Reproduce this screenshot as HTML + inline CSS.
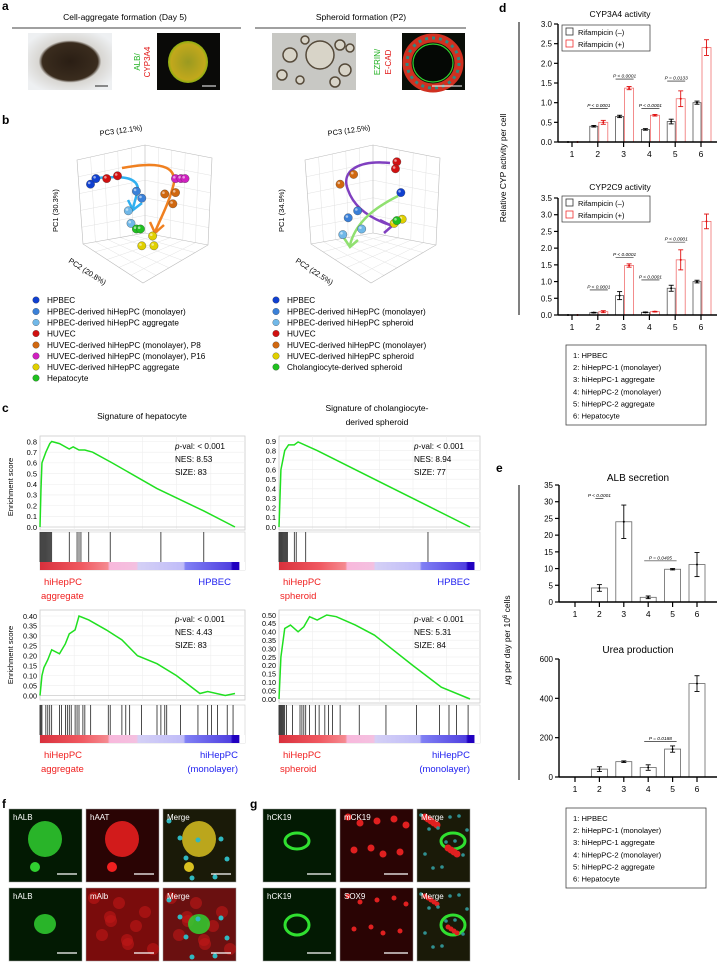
<!DOCTYPE html>
<html><head><meta charset="utf-8"><style>
html,body{margin:0;padding:0;background:#fff;}
svg{display:block;font-family:"Liberation Sans",Arial,sans-serif;}
</style></head><body>
<svg id="fig" xmlns="http://www.w3.org/2000/svg" width="717" height="962" viewBox="0 0 717 962">
<defs>
<radialGradient id="bf1" cx="50%" cy="50%" r="60%"><stop offset="0" stop-color="#2a1e14"/><stop offset="0.55" stop-color="#3a2c1e"/><stop offset="0.62" stop-color="#d8d6d2"/><stop offset="1" stop-color="#eef0f2"/></radialGradient>
<radialGradient id="fl1" cx="50%" cy="50%" r="50%"><stop offset="0" stop-color="#9a9a20"/><stop offset="0.85" stop-color="#c2a81c"/><stop offset="1" stop-color="#8ab010"/></radialGradient>
<linearGradient id="cbar" x1="0" x2="1" y1="0" y2="0">
<stop offset="0" stop-color="#d8303c"/><stop offset="0.2" stop-color="#f05860"/><stop offset="0.33" stop-color="#f58a90"/><stop offset="0.34" stop-color="#f8b8dc"/><stop offset="0.47" stop-color="#f4c0e0"/><stop offset="0.48" stop-color="#d4d0f6"/><stop offset="0.7" stop-color="#c0bcf8"/><stop offset="0.71" stop-color="#8080f4"/><stop offset="0.93" stop-color="#5040e0"/><stop offset="0.94" stop-color="#2000c0"/><stop offset="0.97" stop-color="#2000c0"/><stop offset="0.975" stop-color="#fff"/><stop offset="1" stop-color="#fff"/>
</linearGradient>
</defs>
</svg>
<script>
// ---------- data ----------
const cats = ['1','2','3','4','5','6'];
const cyp3a4Neg = [0,0.40,0.65,0.32,0.52,1.00];
const cyp3a4Pos = [0,0.50,1.37,0.68,1.10,2.40];
const cyp3a4NegErr = [0,0.02,0.03,0.02,0.06,0.04];
const cyp3a4PosErr = [0,0.05,0.04,0.02,0.20,0.20];
const cyp2c9Neg = [0,0.07,0.58,0.08,0.80,1.00];
const cyp2c9Pos = [0,0.10,1.48,0.10,1.65,2.80];
const cyp2c9NegErr = [0,0.01,0.12,0.01,0.09,0.04];
const cyp2c9PosErr = [0,0.03,0.05,0.01,0.30,0.22];
const cypTicks3a4 = [0,0.5,1.0,1.5,2.0,2.5,3.0];
const cypTicks2c9 = [0,0.5,1.0,1.5,2.0,2.5,3.0,3.5];
const albVals = [0,4.2,24,1.4,9.8,11.2];
const albErr = [0,1.0,5,0.4,0.2,3.6];
const albTicks = [0,5,10,15,20,25,30,35];
const ureaVals = [0,40,78,48,142,475];
const ureaErr = [0,12,4,14,16,40];
const ureaTicks = [0,200,400,600];
const legendItems = ['1: HPBEC','2: hiHepPC-1 (monolayer)','3: hiHepPC-1 aggregate','4: hiHepPC-2 (monolayer)','5: hiHepPC-2 aggregate','6: Hepatocyte'];

const gseaHepX = [0,0.005,0.01,0.03,0.05,0.06,0.1,0.15,0.17,0.2,0.23,0.27,0.37,0.6,0.84,1];
const gseaHepY = [0,0.35,0.6,0.7,0.78,0.8,0.78,0.73,0.75,0.72,0.72,0.7,0.6,0.36,0.15,0];
const gseaHepHits = [0,0.005,0.01,0.015,0.02,0.025,0.03,0.035,0.04,0.045,0.05,0.055,0.06,0.15,0.19,0.2,0.21,0.25,0.36,0.62,0.84];
const gseaChoX = [0,0.01,0.03,0.05,0.08,0.1,0.2,0.78,1];
const gseaChoY = [0,0.6,0.8,0.86,0.86,0.89,0.8,0.22,0];
const gseaChoHits = [0,0.005,0.01,0.015,0.02,0.025,0.03,0.035,0.04,0.045,0.08,0.09,0.14,0.78];
const gseaAggX = [0,0.01,0.02,0.04,0.06,0.1,0.13,0.15,0.18,0.2,0.25,0.34,0.42,0.5,0.6,0.7,0.82,0.86,0.95,1];
const gseaAggY = [0,0.1,0.14,0.18,0.23,0.21,0.26,0.31,0.33,0.4,0.38,0.33,0.28,0.2,0.16,0.1,0.01,0.02,0,0.01];
const gseaAggHits = [0,0.005,0.01,0.03,0.04,0.05,0.06,0.1,0.11,0.13,0.14,0.15,0.16,0.18,0.19,0.2,0.22,0.23,0.26,0.35,0.36,0.42,0.44,0.46,0.52,0.6,0.62,0.64,0.65,0.72,0.81,0.86,0.88,0.91,0.96,0.99];
const gseaSphX = [0,0.01,0.03,0.06,0.1,0.13,0.16,0.2,0.25,0.3,0.4,0.5,0.7,0.85,1];
const gseaSphY = [0,0.25,0.42,0.44,0.4,0.43,0.49,0.47,0.5,0.49,0.44,0.38,0.2,0.07,0];
const gseaSphHits = [0,0.005,0.01,0.015,0.02,0.025,0.03,0.04,0.07,0.11,0.12,0.13,0.14,0.16,0.19,0.21,0.24,0.26,0.28,0.32,0.42,0.56,0.72,0.84,0.89,0.93,0.99];

// PCA (normalized positions within 3D box projection)
const pcaLeftColors = ['#1040d0','#1040d0','#3a80d8','#3a80d8','#70b8e8','#70b8e8','#d01010','#d01010','#d06810','#d06810','#d06810','#d020c0','#d020c0','#d020c0','#e0d000','#e0d000','#e0d000','#20c020','#20c020'];
const pcaLeftU = [0.10,0.14,0.44,0.48,0.38,0.40,0.22,0.30,0.65,0.73,0.71,0.73,0.77,0.80,0.56,0.48,0.57,0.44,0.47];
const pcaLeftV = [0.28,0.24,0.33,0.38,0.47,0.56,0.24,0.22,0.35,0.34,0.42,0.24,0.24,0.24,0.65,0.72,0.72,0.60,0.60];
const pcaRightColors = ['#d01010','#d01010','#d06810','#d06810','#1040d0','#3a80d8','#3a80d8','#70b8e8','#70b8e8','#e0d000','#e0d000','#20c020'];
const pcaRightU = [0.68,0.67,0.36,0.26,0.71,0.39,0.32,0.42,0.28,0.66,0.72,0.68];
const pcaRightV = [0.12,0.17,0.21,0.28,0.34,0.47,0.52,0.60,0.64,0.56,0.53,0.54];

// ---------- helpers ----------
const NS='http://www.w3.org/2000/svg';
const svg=document.getElementById('fig');
function mk(tag,attrs,parent){const e=document.createElementNS(NS,tag);for(const k in attrs)e.setAttribute(k,attrs[k]);(parent||svg).appendChild(e);return e;}
function tx(str,x,y,size,attrs,parent){const a=Object.assign({x:x,y:y,'font-size':size,fill:'#000'},attrs||{});const t=mk('text',a,parent);t.textContent=str;return t;}

// ---------- panel letters ----------
[['a',2,10],['b',2,124],['c',2,412],['d',499,12],['e',496,472],['f',2,808],['g',250,808]].forEach(p=>{
  const t=tx(p[0],p[1],p[2],12,{'font-weight':'bold'});
  
  
});

// ---------- panel a ----------
(function(){
  const g=mk('g',{});
  
  
  tx('Cell-aggregate formation (Day 5)',125,20,8.5,{'text-anchor':'middle'},g);
  tx('Spheroid formation (P2)',361,20,8.5,{'text-anchor':'middle'},g);
  mk('line',{x1:12,y1:28,x2:241,y2:28,stroke:'#000','stroke-width':0.8},g);
  mk('line',{x1:255,y1:28,x2:466,y2:28,stroke:'#000','stroke-width':0.8},g);
  const bf=mk('rect',{x:28,y:33,width:84,height:57,fill:'url(#bf1)'},g);
  
  
  mk('line',{x1:95,y1:86,x2:108,y2:86,stroke:'#222','stroke-width':1},g);
  tx('ALB/',140,62,8,{fill:'#20b020','text-anchor':'middle',transform:'rotate(-90 140 62)'},g);
  tx('CYP3A4',150,62,8,{fill:'#e01010','text-anchor':'middle',transform:'rotate(-90 150 62)'},g);
  mk('rect',{x:157,y:33,width:63,height:57,fill:'#0a0a08'},g);
  mk('ellipse',{cx:188,cy:62,rx:20,ry:21,fill:'url(#fl1)'},g);
  mk('line',{x1:202,y1:86,x2:216,y2:86,stroke:'#fff','stroke-width':1},g);
  const sp=mk('rect',{x:272,y:33,width:84,height:57,fill:'#c8c8c4'},g);
  
  
  [[290,55,7],[320,55,14],[340,45,5],[282,75,5],[300,80,4],[345,70,6],[305,40,4],[335,82,5],[350,48,4]].forEach(c=>mk('circle',{cx:c[0],cy:c[1],r:c[2],fill:'#d8d4c8',stroke:'#554a3a','stroke-width':1.5},g));
  tx('EZRIN/',380,62,8,{fill:'#20b020','text-anchor':'middle',transform:'rotate(-90 380 62)'},g);
  tx('E-CAD',391,62,8,{fill:'#e01010','text-anchor':'middle',transform:'rotate(-90 391 62)'},g);
  mk('rect',{x:402,y:33,width:63,height:57,fill:'#0a0e08'},g);
  mk('ellipse',{cx:433,cy:63,rx:26,ry:25,fill:'none',stroke:'#d03020','stroke-width':9},g);
  mk('ellipse',{cx:433,cy:63,rx:26,ry:25,fill:'none',stroke:'#308880','stroke-width':3,'stroke-dasharray':'3 4'},g);
  mk('ellipse',{cx:433,cy:63,rx:20,ry:19,fill:'#050805',stroke:'#30d030','stroke-width':1.2},g);
  mk('line',{x1:432,y1:86,x2:462,y2:86,stroke:'#fff','stroke-width':1},g);
})();

// ---------- panel b (PCA) ----------
function lerp(a,b,f){return [a[0]+(b[0]-a[0])*f,a[1]+(b[1]-a[1])*f];}
function ln(g,a,b,c,w){mk('line',{x1:a[0],y1:a[1],x2:b[0],y2:b[1],stroke:c,'stroke-width':w},g);}
function pcaBox(g,ox,oy){
  const P=[[ox,oy+15],[ox+68,oy],[ox+135,oy+13],[ox+131,oy+100],[ox+66,oy+138],[ox+6,oy+99]];
  const C=[ox+68,oy+88];
  for(let i=1;i<5;i++){const f=i/5;
    // left wall horizontal lines
    ln(g,lerp(P[0],P[5],f),lerp(P[1],C,f),'#e2e2e2',0.5);
    // right wall horizontal lines
    ln(g,lerp(P[1],C,f),lerp(P[2],P[3],f),'#e2e2e2',0.5);
    // left wall verticals
    ln(g,lerp(P[0],P[1],f),lerp(P[5],C,f),'#e2e2e2',0.5);
    // right wall verticals
    ln(g,lerp(P[1],P[2],f),lerp(C,P[3],f),'#e2e2e2',0.5);
    // floor grid
    ln(g,lerp(P[5],C,f),lerp(P[4],P[3],f),'#e2e2e2',0.5);
    ln(g,lerp(C,P[3],f),lerp(P[5],P[4],f),'#e2e2e2',0.5);
  }
  mk('polygon',{points:P.map(p=>p.join(',')).join(' '),fill:'none',stroke:'#bbb','stroke-width':0.6},g);
  [P[1],P[5],P[3]].forEach(p=>ln(g,p,C,'#bbb',0.6));
}
function pcaPoints(g,ox,oy,U,V,cols,name){
  const xs=u=>ox+u*135, ys=v=>oy+v*140;
  U.forEach((u,i)=>{
    const c=mk('circle',{cx:xs(u),cy:ys(V[i]),r:4.2,fill:cols[i],stroke:'#333','stroke-width':0.3},g);
    
    
    mk('circle',{cx:xs(u)-1.3,cy:ys(V[i])-1.3,r:1.3,fill:'#fff','fill-opacity':0.55},g);
  });
}
(function(){
  const g=mk('g',{});
  
  
  pcaBox(g,77,145);
  mk('path',{d:'M96,178 C120,176 138,176 138,190 L133,208',fill:'none',stroke:'#30b0f0','stroke-width':2.5},g);
  mk('path',{d:'M128,200 L133,210 L142,203',fill:'none',stroke:'#30b0f0','stroke-width':2.5},g);
  mk('path',{d:'M122,168 C165,160 180,168 172,190 C168,205 162,215 155,232',fill:'none',stroke:'#f08020','stroke-width':2.5},g);
  mk('path',{d:'M150,222 L155,233 L164,225',fill:'none',stroke:'#f08020','stroke-width':2.5},g);
  pcaPoints(g,77,145,pcaLeftU,pcaLeftV,pcaLeftColors,'pca-left');
  tx('PC3 (12.1%)',100,136,7.5,{transform:'rotate(-8 100 136)'},g);
  tx('PC1 (30.3%)',58,232,7.5,{transform:'rotate(-90 58 232)'},g);
  tx('PC2 (20.8%)',68,262,7.5,{transform:'rotate(33 68 262)'},g);
  const g2=mk('g',{});
  
  
  pcaBox(g2,305,145);
  mk('path',{d:'M390,163 C360,160 340,170 348,190 C355,210 375,220 390,225',fill:'none',stroke:'#8040c0','stroke-width':2.5},g2);
  mk('path',{d:'M380,220 L392,226 L384,233',fill:'none',stroke:'#8040c0','stroke-width':2.5},g2);
  mk('path',{d:'M398,196 C370,210 355,225 350,245',fill:'none',stroke:'#90e070','stroke-width':2.5},g2);
  mk('path',{d:'M344,238 L350,247 L358,240',fill:'none',stroke:'#90e070','stroke-width':2.5},g2);
  pcaPoints(g2,305,145,pcaRightU,pcaRightV,pcaRightColors,'pca-right');
  tx('PC3 (12.5%)',328,136,7.5,{transform:'rotate(-8 328 136)'},g2);
  tx('PC1 (34.9%)',284,232,7.5,{transform:'rotate(-90 284 232)'},g2);
  tx('PC2 (22.5%)',295,262,7.5,{transform:'rotate(33 295 262)'},g2);
})();
const pcaLegL=[['#1040d0','HPBEC'],['#3a80d8','HPBEC-derived hiHepPC (monolayer)'],['#70b8e8','HPBEC-derived hiHepPC aggregate'],['#d01010','HUVEC'],['#d06810','HUVEC-derived hiHepPC (monolayer), P8'],['#d020c0','HUVEC-derived hiHepPC (monolayer), P16'],['#e0d000','HUVEC-derived hiHepPC aggregate'],['#20c020','Hepatocyte']];
const pcaLegR=[['#1040d0','HPBEC'],['#3a80d8','HPBEC-derived hiHepPC (monolayer)'],['#70b8e8','HPBEC-derived hiHepPC spheroid'],['#d01010','HUVEC'],['#d06810','HUVEC-derived hiHepPC (monolayer)'],['#e0d000','HUVEC-derived hiHepPC spheroid'],['#20c020','Cholangiocyte-derived spheroid']];
const legY=[300,311.5,322.5,333.5,345,356,367,378];
pcaLegL.forEach((l,i)=>{const c=mk('circle',{cx:36,cy:legY[i],r:3.3,fill:l[0],stroke:'#333','stroke-width':0.3});
  
  const t=tx(l[1],47,legY[i]+3,8.2);});
pcaLegR.forEach((l,i)=>{const c=mk('circle',{cx:276,cy:legY[i],r:3.3,fill:l[0],stroke:'#333','stroke-width':0.3});
  
  const t=tx(l[1],287,legY[i]+3,8.2);});

// ---------- panel c (GSEA) ----------
function gsea(o){
  const g=mk('g',{});
  
  
  const x0=o.x0,x1=o.x1,top=o.top,bot=o.bot;
  const xs=f=>x0+f*(o.xEnd-x0);
  const ys=v=>o.y0-v/o.tickMax*(o.y0-o.yTop);
  mk('rect',{x:x0,y:top,width:x1-x0,height:bot-top,fill:'#fff',stroke:'#ccc','stroke-width':0.8},g);
  for(let i=1;i<6;i++)mk('line',{x1:x0+i*(x1-x0)/6,y1:top,x2:x0+i*(x1-x0)/6,y2:bot,stroke:'#eee','stroke-width':0.6},g);
  o.ticks.forEach(t=>{mk('line',{x1:x0,y1:ys(t),x2:x1,y2:ys(t),stroke:'#eee','stroke-width':0.6},g);
    tx(o.fmt(t),x0-3,ys(t)+2.8,o.tfs,{'text-anchor':'end'},g);});
  mk('line',{x1:x0,y1:ys(0),x2:x1,y2:ys(0),stroke:'#bbb','stroke-width':0.6},g);
  const pts=o.X.map((f,i)=>xs(f)+','+ys(o.Y[i])).join(' ');
  const pl=mk('polyline',{points:pts,fill:'none',stroke:'#20e020','stroke-width':1.5},g);
  
  
  tx('p',o.ax,o.ay,8.2,{'font-style':'italic'},g);
  tx('-val: < 0.001',o.ax+4.6,o.ay,8.2,{},g);
  tx('NES: '+o.nes,o.ax,o.ay+13,8.2,{},g);
  tx('SIZE: '+o.size,o.ax,o.ay+26,8.2,{},g);
  mk('rect',{x:x0,y:o.bcTop,width:x1-x0,height:o.bcBot-o.bcTop,fill:'#fff',stroke:'#ccc','stroke-width':0.6},g);
  o.hits.forEach(h=>{const l=mk('line',{x1:xs(h),y1:o.bcTop,x2:xs(h),y2:o.bcBot-8,stroke:'#000','stroke-width':0.7},g);
    });
  mk('rect',{x:x0,y:o.bcBot-8,width:x1-x0,height:8,fill:'url(#cbar)'},g);
  tx(o.l1[0],x0+4,o.ly,9.5,{fill:'#f02020'},g);
  if(o.l1[1])tx(o.l1[1],x0+1,o.ly+14,9.5,{fill:'#f02020'},g);
  tx(o.r1[0],o.rx,o.ly,9.5,{fill:'#2020f0','text-anchor':'end'},g);
  if(o.r1[1])tx(o.r1[1],o.rx,o.ly+14,9.5,{fill:'#2020f0','text-anchor':'end'},g);
  return g;
}
tx('Signature of hepatocyte',142,419,8.5,{'text-anchor':'middle'});
tx('Signature of cholangiocyte-',377,411,8.5,{'text-anchor':'middle'});
tx('derived spheroid',377,425,8.5,{'text-anchor':'middle'});
tx('Enrichment score',13,487,7.5,{'text-anchor':'middle',transform:'rotate(-90 13 487)'});
tx('Enrichment score',13,655,7.5,{'text-anchor':'middle',transform:'rotate(-90 13 655)'});
const f1=v=>v.toFixed(1), f2=v=>v.toFixed(2);
gsea({name:'gsea-hepatocyte',x0:40,x1:245,xEnd:235,top:436,bot:530,y0:527,yTop:441.5,tickMax:0.8,ticks:[0,0.1,0.2,0.3,0.4,0.5,0.6,0.7,0.8],fmt:f1,tfs:7.5,X:gseaHepX,Y:gseaHepY,hits:gseaHepHits,ax:175,ay:449,nes:'8.53',size:'83',bcTop:532,bcBot:570,l1:['hiHepPC','aggregate'],r1:['HPBEC',''],rx:231,ly:585});
gsea({name:'gsea-cholangiocyte',x0:279,x1:480,xEnd:470,top:436,bot:530,y0:527,yTop:441,tickMax:0.9,ticks:[0,0.1,0.2,0.3,0.4,0.5,0.6,0.7,0.8,0.9],fmt:f1,tfs:7.5,X:gseaChoX,Y:gseaChoY,hits:gseaChoHits,ax:414,ay:449,nes:'8.94',size:'77',bcTop:532,bcBot:570,l1:['hiHepPC','spheroid'],r1:['HPBEC',''],rx:470,ly:585});
gsea({name:'gsea-aggregate-vs-monolayer',x0:40,x1:245,xEnd:235,top:610,bot:700,y0:695.5,yTop:616,tickMax:0.4,ticks:[0,0.05,0.1,0.15,0.2,0.25,0.3,0.35,0.4],fmt:f2,tfs:7.2,X:gseaAggX,Y:gseaAggY,hits:gseaAggHits,ax:175,ay:622,nes:'4.43',size:'83',bcTop:705,bcBot:743,l1:['hiHepPC','aggregate'],r1:['hiHepPC','(monolayer)'],rx:238,ly:758});
gsea({name:'gsea-spheroid-vs-monolayer',x0:279,x1:480,xEnd:470,top:610,bot:703,y0:699,yTop:615,tickMax:0.5,ticks:[0,0.05,0.1,0.15,0.2,0.25,0.3,0.35,0.4,0.45,0.5],fmt:f2,tfs:7.2,X:gseaSphX,Y:gseaSphY,hits:gseaSphHits,ax:414,ay:622,nes:'5.31',size:'84',bcTop:705,bcBot:743,l1:['hiHepPC','spheroid'],r1:['hiHepPC','(monolayer)'],rx:470,ly:758});

// ---------- bar charts ----------
function axisY(g,ax,y0,ppu,ticks,fmt,top){
  mk('line',{x1:ax,y1:y0,x2:ax,y2:top,stroke:'#000','stroke-width':1.4},g);
  ticks.forEach(t=>{const y=y0-t*ppu;mk('line',{x1:ax-4,y1:y,x2:ax,y2:y,stroke:'#000','stroke-width':1.2},g);
    tx(fmt(t),ax-6,y+3,8,{'text-anchor':'end'},g);});
}
function axisX(g,ax,y0,cx){
  mk('line',{x1:ax,y1:y0,x2:717,y2:y0,stroke:'#000','stroke-width':1.4},g);
  cats.forEach((c,i)=>{mk('line',{x1:cx(i),y1:y0,x2:cx(i),y2:y0+5,stroke:'#000','stroke-width':1.2},g);
    tx(c,cx(i),y0+15,8.5,{'text-anchor':'middle'},g);});
}
function errBar(g,x,y,e,col){
  mk('line',{x1:x,y1:y-e,x2:x,y2:y+e,stroke:col,'stroke-width':0.9},g);
  mk('line',{x1:x-2.5,y1:y-e,x2:x+2.5,y2:y-e,stroke:col,'stroke-width':0.9},g);
  mk('line',{x1:x-2.5,y1:y+e,x2:x+2.5,y2:y+e,stroke:col,'stroke-width':0.9},g);
  mk('circle',{cx:x,cy:y,r:1,fill:col},g);
}
function pText(g,x1,x2,y,str){
  tx(str,(x1+x2)/2,y-1.5,4.8,{'text-anchor':'middle','font-style':'italic'},g);
  mk('line',{x1:x1,y1:y,x2:x2,y2:y,stroke:'#000','stroke-width':0.6},g);
}
function cypChart(name,title,titleY,y0,ppu,ticks,neg,pos,negE,posE,pvals,legTop){
  const g=mk('g',{});
  
  
  const ax=558, cx=i=>572+i*25.8, ys=v=>y0-v*ppu;
  tx(title,620,titleY,8.5,{'text-anchor':'middle'},g);
  cats.forEach((c,i)=>{
    const b=mk('rect',{x:cx(i)-8,y:ys(neg[i]),width:8,height:neg[i]*ppu,fill:'#fff',stroke:'#555','stroke-width':0.8},g);
    
    
    const r=mk('rect',{x:cx(i)+1,y:ys(pos[i]),width:9,height:pos[i]*ppu,fill:'#fff',stroke:'#f07070','stroke-width':0.8},g);
    
    
    errBar(g,cx(i)-4,ys(neg[i]),negE[i]*ppu,'#000');
    errBar(g,cx(i)+5.5,ys(pos[i]),posE[i]*ppu,'#e01010');
  });
  pvals.forEach(p=>pText(g,cx(p[0])-8,cx(p[1])+10,ys(p[2]),p[3]));
  axisY(g,ax,y0,ppu,ticks,v=>v.toFixed(1),y0-ticks[ticks.length-1]*ppu);
  axisX(g,ax,y0,cx);
  const lg=mk('g',{},g);
  
  
  mk('rect',{x:562,y:legTop,width:88,height:26,fill:'#fff',stroke:'#333','stroke-width':0.7},lg);
  mk('rect',{x:566,y:legTop+3,width:7,height:7,fill:'#fff',stroke:'#333','stroke-width':0.8},lg);
  tx('Rifampicin (–)',578,legTop+10,7.5,{},lg);
  mk('rect',{x:566,y:legTop+15,width:7,height:7,fill:'#fff',stroke:'#f03030','stroke-width':0.8},lg);
  tx('Rifampicin (+)',578,legTop+22,7.5,{},lg);
}
cypChart('cyp3a4-chart','CYP3A4 activity',17,142,118/3,cypTicks3a4,cyp3a4Neg,cyp3a4Pos,cyp3a4NegErr,cyp3a4PosErr,
  [[1,1,0.85,'P < 0.0001'],[2,2,1.6,'P < 0.0001'],[3,3,0.85,'P < 0.0001'],[4,4,1.55,'P = 0.0133']],25);
cypChart('cyp2c9-chart','CYP2C9 activity',190,315,117/3.5,cypTicks2c9,cyp2c9Neg,cyp2c9Pos,cyp2c9NegErr,cyp2c9PosErr,
  [[1,1,0.75,'P < 0.0001'],[2,2,1.72,'P < 0.0001'],[3,3,1.05,'P < 0.0001'],[4,4,2.18,'P < 0.0001']],196);
mk('line',{x1:519,y1:22,x2:519,y2:315,stroke:'#000','stroke-width':1});
tx('Relative CYP activity per cell',506,168,8.5,{'text-anchor':'middle',transform:'rotate(-90 506 168)'});

function sampleLegend(top,name){
  const g=mk('g',{});
  
  
  mk('rect',{x:566,y:top,width:140,height:80,fill:'#fff',stroke:'#444','stroke-width':0.8},g);
  legendItems.forEach((s,i)=>tx(s,573,top+13+i*12.1,7.6,{},g));
}
sampleLegend(345,'sample-legend-d');

function simpleBar(name,title,titleY,y0,ppu,ticks,vals,errs,pvals){
  const g=mk('g',{});
  
  
  const ax=559, cx=i=>575+i*24.4, ys=v=>y0-v*ppu;
  tx(title,638,titleY,10,{'text-anchor':'middle'},g);
  cats.forEach((c,i)=>{
    const b=mk('rect',{x:cx(i)-8,y:ys(vals[i]),width:16,height:vals[i]*ppu,fill:'#fff',stroke:'#666','stroke-width':0.8},g);
    
    
    if(vals[i]>0)errBar(g,cx(i),ys(vals[i]),errs[i]*ppu,'#000');
  });
  pvals.forEach(p=>pText(g,cx(p[0])-4,cx(p[1])+4,ys(p[2]),p[3]));
  axisY(g,ax,y0,ppu,ticks,v=>String(v),y0-ticks[ticks.length-1]*ppu);
  axisX(g,ax,y0,cx);
}
simpleBar('alb-chart','ALB secretion',481,602,117/35,albTicks,albVals,albErr,[[1,1,31,'P < 0.0001'],[3,4,12.3,'P = 0.0405']]);
simpleBar('urea-chart','Urea production',653,777,118/600,ureaTicks,ureaVals,ureaErr,[[3,4,180,'P = 0.0188']]);
mk('line',{x1:519,y1:485,x2:519,y2:780,stroke:'#000','stroke-width':1});
(function(){const t=tx('',510,640,8.5,{'text-anchor':'middle',transform:'rotate(-90 510 640)'});
  t.innerHTML='<tspan font-style="italic">μ</tspan>g per day per 10<tspan baseline-shift="super" font-size="6">6</tspan> cells';
  })();
sampleLegend(808,'sample-legend-e');

// ---------- panels f, g (microscopy) ----------
function tile(x,y,w,label,kind){
  const g=mk('g',{});
  
  
  const bg={green:'#031a03',red:'#2a0404',merge:'#1a1a08',redfull:'#7a0c0c',mergefull:'#6a1010'}[kind];
  mk('rect',{x:x,y:y,width:w,height:73,fill:bg,stroke:'#999','stroke-width':0.5},g);
  return g;
}
(function(){
  const xs=[9,86,163], ys=[809,888];
  const lab=[['hALB','hAAT','Merge'],['hALB','mAlb','Merge']];
  const kinds=[['green','red','merge'],['green','redfull','mergefull']];
  ys.forEach((y,r)=>xs.forEach((x,c)=>{
    const g=tile(x,y,73,lab[r][c],kinds[r][c]);
    const cx=x+36, cy=y+(r?36:30);
    const col=c===0?'#30d030':(c===1?'#f02020':'#d8c020');
    if(kinds[r][c]==='redfull'||kinds[r][c]==='mergefull'){
      for(let i=0;i<10;i++)mk('circle',{cx:x+8+(i*17)%60,cy:y+10+(i*23)%55,r:6,fill:'#c01818','fill-opacity':0.6},g);
    }
    if(c!==1||r===0){
      const cc=(r===1&&c===2)?'#30d030':col;
      mk('ellipse',{cx:cx,cy:cy,rx:r?11:17,ry:r?10:18,fill:cc,'fill-opacity':0.85},g);
      if(!r)mk('ellipse',{cx:x+26,cy:y+58,rx:5,ry:5,fill:cc},g);
    }
    if(c===2)for(let i=0;i<8;i++)mk('circle',{cx:x+6+(i*29)%64,cy:y+12+(i*19)%58,r:2.5,fill:'#30b8c0'},g);
    tx(lab[r][c],x+4,y+11,8,{fill:'#fff'},g);
    mk('line',{x1:x+48,y1:y+65,x2:x+68,y2:y+65,stroke:'#fff','stroke-width':1.2},g);
  }));
})();
(function(){
  const xs=[263,340,417], ys=[809,888];
  const lab=[['hCK19','mCK19','Merge'],['hCK19','SOX9','Merge']];
  ys.forEach((y,r)=>xs.forEach((x,c)=>{
    const w=c===2?53:73;
    const g=tile(x,y,w,lab[r][c],c===0?'green':(c===1?'red':'merge'));
    if(c!==1)mk('ellipse',{cx:x+(c===2?36:34),cy:y+(r?37:32),rx:12,ry:r?10:8,fill:'none',stroke:'#30e030','stroke-width':3},g);
    if(c>=1)for(let i=0;i<9;i++)mk('circle',{cx:x+8+(i*23)%(w-10),cy:y+8+(i*31)%60,r:r?2.5:3.5,fill:'#e02020'},g);
    if(c===2)for(let i=0;i<12;i++)mk('circle',{cx:x+4+(i*17)%(w-6),cy:y+6+(i*13)%64,r:1.8,fill:'#309090'},g);
    tx(lab[r][c],x+4,y+11,8,{fill:'#fff'},g);
    if(c<2)mk('line',{x1:x+44,y1:y+65,x2:x+68,y2:y+65,stroke:'#fff','stroke-width':1.2},g);
  }));
})();
</script>
</body></html>
